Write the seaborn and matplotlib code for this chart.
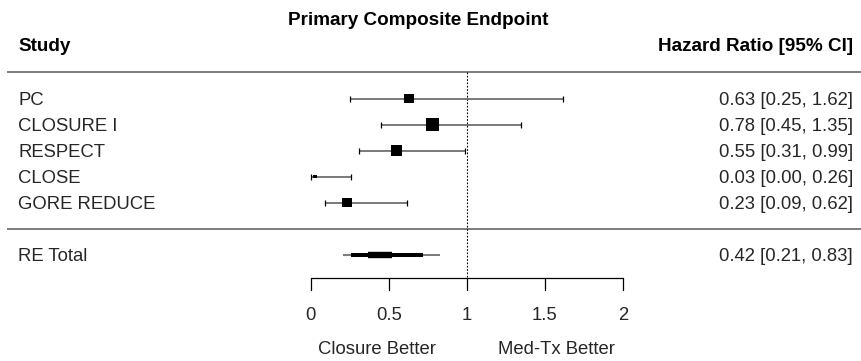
import numpy as np
import pandas as pd
import matplotlib
matplotlib.use("Agg")
import matplotlib.pyplot as plt
import seaborn as sns

# ---- study-level data ----
studies = ["PC", "CLOSURE I", "RESPECT", "CLOSE", "GORE REDUCE"]
hr = [0.63, 0.78, 0.55, 0.03, 0.23]
ci_low = [0.25, 0.45, 0.31, 0.00, 0.09]
ci_high = [1.62, 1.35, 0.99, 0.26, 0.62]
weights = [19.1, 27.4, 24.7, 8.2, 20.6]

# ---- pooled random-effects estimate ----
total_label = "RE Total"
total_hr = 0.42
total_ci = (0.21, 0.83)
total_band_mid = (0.26, 0.72)
total_band_inner = (0.37, 0.52)

x_ticks = [0, 0.5, 1, 1.5, 2]
x_tick_labels = ["0", "0.5", "1", "1.5", "2"]

sns.set_theme(style="white")
plt.rcParams["font.family"] = ["Liberation Sans", "DejaVu Sans"]

W, H, DPI = 861, 361, 100
fig = plt.figure(figsize=(W / DPI, H / DPI), dpi=DPI)
ax = fig.add_axes([0, 0, 1, 1])

# horizontal scale: pixels per HR unit and pixel position of HR = 0
x0_px, px_per_unit = 310.7, 156.0
def px(xpix):
    return (xpix - x0_px) / px_per_unit

# vertical layout (pixel rows, top = 0)
first_row, row_step = 98.5, 26.0
rows = [first_row + i * row_step for i in range(len(studies))]
total_row = rows[-1] + 2 * row_step
top_rule, mid_rule = 72, 229
axis_y, tick_len = 278, 12
fs, fs_bold = 13.3, 13.6
base_off = 6.6  # baseline offset from row centre

line_col = "#555555"
rule_col = "#666666"

# header
ax.text(px(418), 25, "Primary Composite Endpoint", ha="center", va="baseline",
        fontsize=fs_bold, fontweight="bold", color="black")
ax.text(px(18), 51, "Study", ha="left", va="baseline",
        fontsize=fs_bold, fontweight="bold", color="black")
ax.text(px(853), 51, "Hazard Ratio [95% CI]", ha="right", va="baseline",
        fontsize=fs_bold, fontweight="bold", color="black")

# rules
for yy in (top_rule, mid_rule):
    ax.plot([px(7), px(861)], [yy, yy], color=rule_col, lw=1.2,
            solid_capstyle="butt")

# line of no effect
ax.plot([1, 1], [top_rule, axis_y], color="black", lw=0.8, ls=(0, (1.5, 1.5)))

# confidence intervals with end caps
ax.hlines(rows, ci_low, ci_high, color=line_col, lw=1.1)
cap = 3.0
ax.vlines(ci_low, np.array(rows) - cap, np.array(rows) + cap, color="black", lw=0.9)
ax.vlines(ci_high, np.array(rows) - cap, np.array(rows) + cap, color="black", lw=0.9)

# squares sized by weight
side_px = 13.3 * np.array(weights) / max(weights)
areas = {s: (p * 72 / DPI) ** 2 for s, p in zip(studies, side_px)}
df = pd.DataFrame({"study": studies, "hr": hr, "row": rows})
sns.scatterplot(data=df, x="hr", y="row", size="study", sizes=areas,
                marker="s", color="black", linewidth=0, legend=False, ax=ax,
                zorder=3)

# pooled estimate drawn as layered bands
ax.hlines(total_row, *total_ci, color=line_col, lw=1.1)
ax.hlines(total_row, *total_band_mid, color="black", lw=2.9)
ax.hlines(total_row, *total_band_inner, color="black", lw=4.6)

# labels and values
for s, r, e, lo, hi in zip(studies, rows, hr, ci_low, ci_high):
    ax.text(px(18), r + base_off, s, ha="left", va="baseline", fontsize=fs)
    ax.text(px(853), r + base_off, f"{e:.2f} [{lo:.2f}, {hi:.2f}]",
            ha="right", va="baseline", fontsize=fs)
ax.text(px(18), total_row + base_off, total_label, ha="left", va="baseline",
        fontsize=fs)
ax.text(px(853), total_row + base_off,
        f"{total_hr:.2f} [{total_ci[0]:.2f}, {total_ci[1]:.2f}]",
        ha="right", va="baseline", fontsize=fs)

# x axis
ax.plot([x_ticks[0], x_ticks[-1]], [axis_y, axis_y], color="black", lw=0.9)
for t, lab in zip(x_ticks, x_tick_labels):
    ax.plot([t, t], [axis_y, axis_y + tick_len], color="black", lw=0.9)
    ax.text(t, 320, lab, ha="center", va="baseline", fontsize=fs)

ax.text(0.8, 354, "Closure Better", ha="right", va="baseline", fontsize=fs)
ax.text(1.2, 354, "Med-Tx Better", ha="left", va="baseline", fontsize=fs)

ax.set_xlim(px(0), px(W))
ax.set_ylim(H, 0)
ax.axis("off")

fig.savefig("out.png", dpi=DPI, facecolor="white")
